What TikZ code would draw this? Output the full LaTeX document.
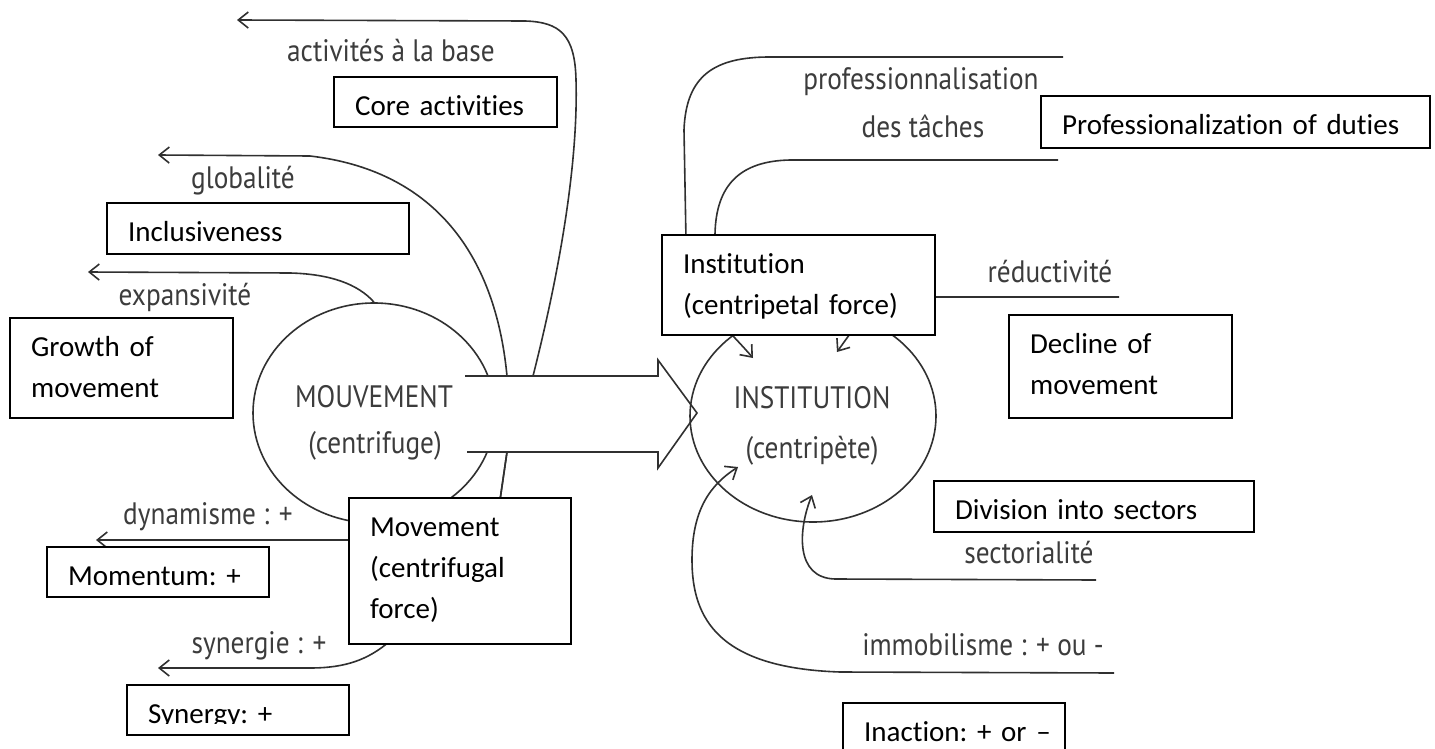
\documentclass[tikz,border=0pt]{standalone}
\usepackage{fontspec}
\usetikzlibrary{shapes.geometric,arrows.meta}
\newfontfamily\scanfont[FakeStretch=0.88]{PT Sans}
\newfontfamily\boxfont[Ligatures=NoCommon,WordSpace=0.9]{Carlito}
\definecolor{ink}{HTML}{303030}
\definecolor{scantext}{HTML}{3C3C3C}
\begin{document}
\begin{tikzpicture}[x=1pt, y=-1pt,
  flow/.style={draw=ink, line width=1.6pt},
  toarr/.style={-{Straight Barb[length=10pt,width=16pt]}},
  blob/.style={ellipse, draw=ink, line width=1.6pt, inner sep=0pt},
  fr/.style={anchor=base, inner sep=0pt, text=scantext, font=\scanfont\fontsize{31}{31}\selectfont},
  tbox/.style={draw, line width=2.2pt, fill=white, anchor=north west, inner xsep=21pt, inner ysep=0pt, text height=38pt, align=left, font=\boxfont\fontsize{29}{41}\selectfont\frenchspacing}]
\clip (0,0) rectangle (1435,749);
\fill[white] (0,0) rectangle (1435,749);
% the two poles
\node[blob, minimum width=242pt, minimum height=220pt] (mvt) at (374,413) {};
\filldraw[flow, fill=white] (465,376) -- (658,376) -- (658,360) -- (697,413) -- (658,468) -- (658,452) -- (467,452);
\node[blob, minimum width=246pt, minimum height=212pt] (inst) at (813,416) {};
% points where the connectors leave the big arrow, and free ends
\coordinate (topA) at (533,376);
\coordinate (topG) at (507,376);
\coordinate (botD) at (507,452);
\coordinate (endA) at (237,20);
\coordinate (endG) at (158,155);
\coordinate (endE) at (88,272);
\coordinate (endD) at (96,540);
\coordinate (endS) at (158,668);
\coordinate (profA) at (1063,57);
\coordinate (profB) at (1058,160);
\coordinate (profEnd) at (753,358);
\coordinate (redA) at (1119,297);
\coordinate (redEnd) at (837,352);
\coordinate (secA) at (1096,580);
\coordinate (secEnd) at (812,495);
\coordinate (immA) at (1114,673);
\coordinate (immEnd) at (738,467);
% centrifugal side
\draw[flow,toarr] (topA) .. controls (565,250) and (578,150) .. (576,80) .. controls (575,35) and (560,22) .. (525,21) -- (endA);
\draw[flow,toarr] (topG) .. controls (495,250) and (430,170) .. (310,156) -- (endG);
\draw[flow,toarr] (mvt.north) .. controls (358,284) and (330,274) .. (290,273) -- (endE);
\draw[flow,toarr] (botD) -- (500,500) .. controls (494,530) and (460,540) .. (380,540) -- (endD);
\draw[flow,toarr] (botD) -- (500,500) .. controls (494,570) and (425,615) .. (390,641) .. controls (368,660) and (345,668) .. (310,668) -- (endS);
% centripetal side
\draw[flow,toarr] (profA) -- (770,57) .. controls (715,57) and (686,75) .. (684,130) -- (686,240) .. controls (690,300) and (722,322) .. (profEnd);
\draw[flow] (profB) -- (790,160) .. controls (740,161) and (716,185) .. (715,234) -- (718,300);
\draw[flow,toarr] (redA) -- (905,297) .. controls (875,298) and (856,325) .. (redEnd);
\draw[flow,toarr] (secA) -- (835,579) .. controls (795,578) and (798,530) .. (secEnd);
\draw[flow,toarr] (immA) -- (840,672) .. controls (720,668) and (692,620) .. (692,560) .. controls (692,510) and (710,485) .. (immEnd);
% scanned labels
\node[fr] (lActiv) at (391,62) {activités à la base};
\node[fr] (lGlob) at (243,189) {globalité};
\node[fr] (lExp) at (185,305) {expansivité};
\node[fr] (lDyn) at (208,524) {dynamisme : +};
\node[fr] (lSyn) at (259,653) {synergie : +};
\node[fr] (lMvt) at (374,407) {MOUVEMENT};
\node[fr] (lMvtB) at (375,453) {(centrifuge)};
\node[fr] (lInst) at (812,408) {INSTITUTION};
\node[fr] (lInstB) at (812,458) {(centripète)};
\node[fr] (lProf) at (921,90) {professionnalisation};
\node[fr] (lProfB) at (923,138) {des tâches};
\node[fr] (lRed) at (1050,282) {réductivité};
\node[fr] (lSec) at (1029,563) {sectorialité};
\node[fr] (lImm) at (983,655) {immobilisme : + ou -};
% translation boxes
\node[tbox, text width=181pt, text depth=12pt] (core) at (333,76) {Core activities};
\node[tbox, text width=260pt, text depth=13pt] (inclu) at (106,202) {Inclusiveness};
\node[tbox, text width=181pt, text depth=62pt] (growth) at (9,317) {Growth of\\movement};
\node[tbox, text width=180pt, text depth=12pt] (momentum) at (46,546) {Momentum: +};
\node[tbox, text width=180pt, text depth=12pt] (synergy) at (126,684) {Synergy: +};
\fill[white] (128,723.5) rectangle (346,731.6);
\node[tbox, text width=180pt, text depth=108pt] (mvtBox) at (348,497) {Movement\\(centrifugal\\force)};
\node[tbox, text width=231pt, text depth=62pt] (instBox) at (661,234) {Institution\\(centripetal force)};
\node[tbox, text width=347pt, text depth=14pt] (prof) at (1040,95) {Professionalization of duties};
\node[tbox, text width=181pt, text depth=65pt] (decline) at (1008,314) {Decline of\\movement};
\node[tbox, text width=278pt, text depth=13pt] (division) at (933,480) {Division into sectors};
\node[tbox, text width=180pt, text depth=30pt] (inaction) at (842,702) {\mbox{Inaction: + or –}};
\end{tikzpicture}
\end{document}
